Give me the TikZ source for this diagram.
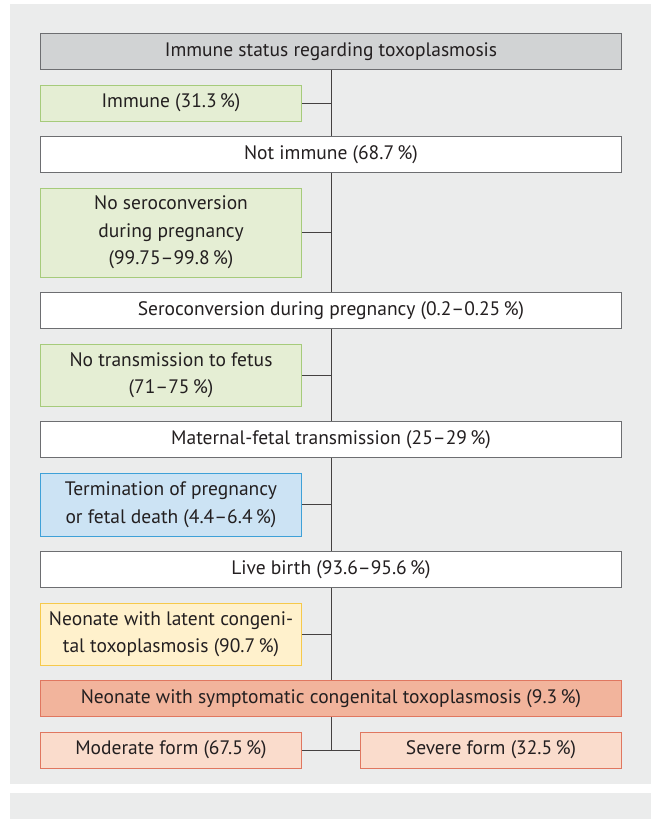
\documentclass[tikz,border=0pt]{standalone}
\usepackage{fontspec}
\setmainfont{PT Sans}
\usepackage{tikz}
\usetikzlibrary{positioning}
\definecolor{fondC}{RGB}{235,236,236}
\definecolor{grisC}{RGB}{109,110,113}
\definecolor{titreC}{RGB}{209,211,212}
\definecolor{texteC}{RGB}{35,31,32}
\definecolor{vertC}{RGB}{166,203,123}
\definecolor{vertF}{RGB}{229,238,212}
\definecolor{bleuC}{RGB}{63,161,216}
\definecolor{bleuF}{RGB}{204,227,244}
\definecolor{jauneC}{RGB}{246,201,75}
\definecolor{jauneF}{RGB}{255,241,204}
\definecolor{saumonC}{RGB}{224,119,96}
\definecolor{saumonF}{RGB}{242,180,156}
\definecolor{roseF}{RGB}{250,220,204}
\tikzset{
  bande/.style 2 args={rectangle, draw=#1, fill=#2, line width=1pt, align=center,
               font=\fontsize{19.5}{27.5}\selectfont, text=texteC, inner sep=0pt,
               minimum width=581pt, minimum height=36pt},
  cote/.style 2 args={bande={#1}{#2}, minimum width=261pt},
  lien/.style={line width=1pt, draw=texteC!85},
}

\begin{document}
\begin{tikzpicture}[x=1pt, y=1pt, node distance=14.5pt]
        \useasboundingbox (0,0) rectangle (662,-819);
        \fill[fondC] (10,-4) rectangle (651,-784);
        \fill[fondC] (10,-793) rectangle (651,-819);
        % boxes
        \node[bande={grisC}{titreC}, anchor=north west] (statut) at (40,-33)
          {Immune status regarding toxoplasmosis};
        \node[cote={vertC}{vertF}, below=of statut.south west, anchor=north west] (immun)
          {Immune (31.3\,\%)};
        \node[bande={grisC}{white}, below=of immun.south west, anchor=north west] (nonimmun)
          {Not immune (68.7\,\%)};
        \node[cote={vertC}{vertF}, minimum height=89pt, below=of nonimmun.south west, anchor=north west] (nonsero)
          {No seroconversion\\during pregnancy\\(99.75–99.8\,\%)};
        \node[bande={grisC}{white}, below=of nonsero.south west, anchor=north west] (sero)
          {Seroconversion during pregnancy (0.2–0.25\,\%)};
        \node[cote={vertC}{vertF}, minimum height=62pt, below=of sero.south west, anchor=north west] (nontrans)
          {No transmission to fetus\\(71–75\,\%)};
        \node[bande={grisC}{white}, below=of nontrans.south west, anchor=north west] (trans)
          {Maternal-fetal transmission (25–29\,\%)};
        \node[cote={bleuC}{bleuF}, minimum height=63pt, below=of trans.south west, anchor=north west] (arret)
          {Termination of pregnancy\\or fetal death (4.4–6.4\,\%)};
        \node[bande={grisC}{white}, below=of arret.south west, anchor=north west] (vivant)
          {Live birth (93.6–95.6\,\%)};
        \node[cote={jauneC}{jauneF}, minimum height=62pt, below=of vivant.south west, anchor=north west] (latent)
          {Neonate with latent congeni-\\tal toxoplasmosis (90.7\,\%)};
        \node[bande={saumonC}{saumonF}, below=of latent.south west, anchor=north west] (sympto)
          {Neonate with symptomatic congenital toxoplasmosis (9.3\,\%)};
        \node[cote={saumonC}{roseF}, below=of sympto.south west, anchor=north west] (modere)
          {Moderate form (67.5\,\%)};
        \node[cote={saumonC}{roseF}, anchor=east] (severe) at (sympto.east |- modere.east)
          {Severe form (32.5\,\%)};
        % connectors
        \draw[lien] (statut.south) -- (nonimmun.north);
        \draw[lien] (nonimmun.south) -- (sero.north);
        \draw[lien] (sero.south) -- (trans.north);
        \draw[lien] (trans.south) -- (vivant.north);
        \draw[lien] (vivant.south) -- (sympto.north);
        \draw[lien] (immun.east) -- (immun.east -| statut.south);
        \draw[lien] (nonsero.east) -- (nonsero.east -| statut.south);
        \draw[lien] (nontrans.east) -- (nontrans.east -| statut.south);
        \draw[lien] (arret.east) -- (arret.east -| statut.south);
        \draw[lien] (latent.east) -- (latent.east -| statut.south);
        \draw[lien] (modere.east) -- (severe.west);
        \draw[lien] (sympto.south) -- (sympto.south |- modere.east);
      \end{tikzpicture}
\end{document}
